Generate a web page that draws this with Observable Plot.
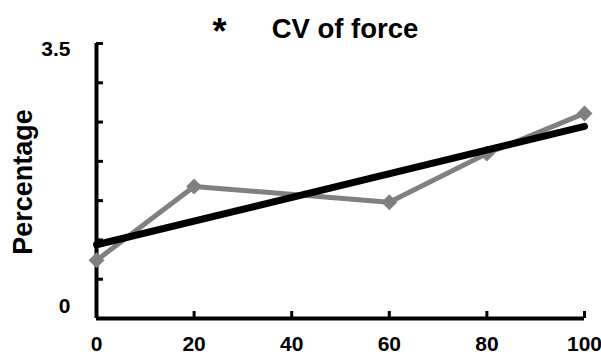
<!DOCTYPE html>
<html>
<head>
<meta charset="utf-8">
<script src="https://cdn.jsdelivr.net/npm/d3@7"></script>
<script src="https://cdn.jsdelivr.net/npm/@observablehq/plot@0.6"></script>
<style>
  body { margin: 0; background: #fff; }
  #chart svg { display: block; font-family: "Liberation Sans", Arial, sans-serif; font-weight: bold; }
  #chart svg g[aria-label*="tick label"],
  #chart svg g[aria-label*="tick label"] text { font-size: 21px !important; }
</style>
</head>
<body>
<div id="chart"></div>
<script>
// Coefficient of variation of force across load levels
const titleText = "CV of force";
const titleMark = "*";
const yLabel = "Percentage";
const loads = [0, 20, 60, 80, 100];
const cvValues = [0.74, 1.68, 1.48, 2.10, 2.61];
const xTicks = [0, 20, 40, 60, 80, 100];
const yTicks = [0, 0.5, 1, 1.5, 2, 2.5, 3, 3.5];
const yTopLabel = [3.5];
const yBottomLabel = [0];

const data = loads.map((x, i) => ({x, y: cvValues[i]}));

const gray = "#808080";
const fontFamily = "'Liberation Sans', Arial, sans-serif";
const plain = (d) => String(d);

const chart = Plot.plot({
  width: 601,
  height: 356,
  marginTop: 43,
  marginBottom: 38,
  marginLeft: 96,
  marginRight: 17,
  style: {fontFamily, fontWeight: "bold", fontSize: "21px", color: "#000", background: "#fff", overflow: "visible"},
  x: {domain: [0, 100]},
  y: {domain: [0, 3.5]},
  marks: [
    // inward tick marks
    Plot.axisY(yTicks, {tickSize: -7, strokeWidth: 3, tickFormat: () => "", label: null}),
    Plot.axisX(xTicks, {tickSize: -7, strokeWidth: 3, tickFormat: () => "", label: null}),
    // tick labels
    Plot.axisY(yTopLabel, {tickSize: 0, tickPadding: 26, dy: 6, tickFormat: plain, label: null}),
    Plot.axisY(yBottomLabel, {tickSize: 0, tickPadding: 26, dy: -12, tickFormat: plain, label: null}),
    Plot.axisX(xTicks, {tickSize: 0, tickPadding: 18, tickFormat: plain, label: null}),
    // axis lines
    Plot.ruleX([0], {stroke: "#000", strokeWidth: 4}),
    Plot.ruleY([0], {stroke: "#000", strokeWidth: 4}),
    // data series
    Plot.line(data, {x: "x", y: "y", stroke: gray, strokeWidth: 5}),
    Plot.dot(data, {x: "x", y: "y", symbol: "diamond2", r: 7.2, fill: gray, stroke: "none"}),
    // linear trend
    Plot.linearRegressionY(data, {x: "x", y: "y", stroke: "#000", strokeWidth: 7, ci: 0}),
    // titles
    Plot.text([titleText], {frameAnchor: "top", dx: 4.5, dy: -6, lineAnchor: "bottom", fontSize: 27.5, fontWeight: "bold"}),
    Plot.text([titleMark], {frameAnchor: "top", dx: -121, dy: -25, lineAnchor: "top", fontSize: 36, fontWeight: "bold"}),
    Plot.text([yLabel], {frameAnchor: "left", textAnchor: "middle", dx: -73, dy: 1, rotate: -90, fontSize: 27, fontWeight: "bold"})
  ]
});

document.getElementById("chart").appendChild(chart);
</script>
</body>
</html>
